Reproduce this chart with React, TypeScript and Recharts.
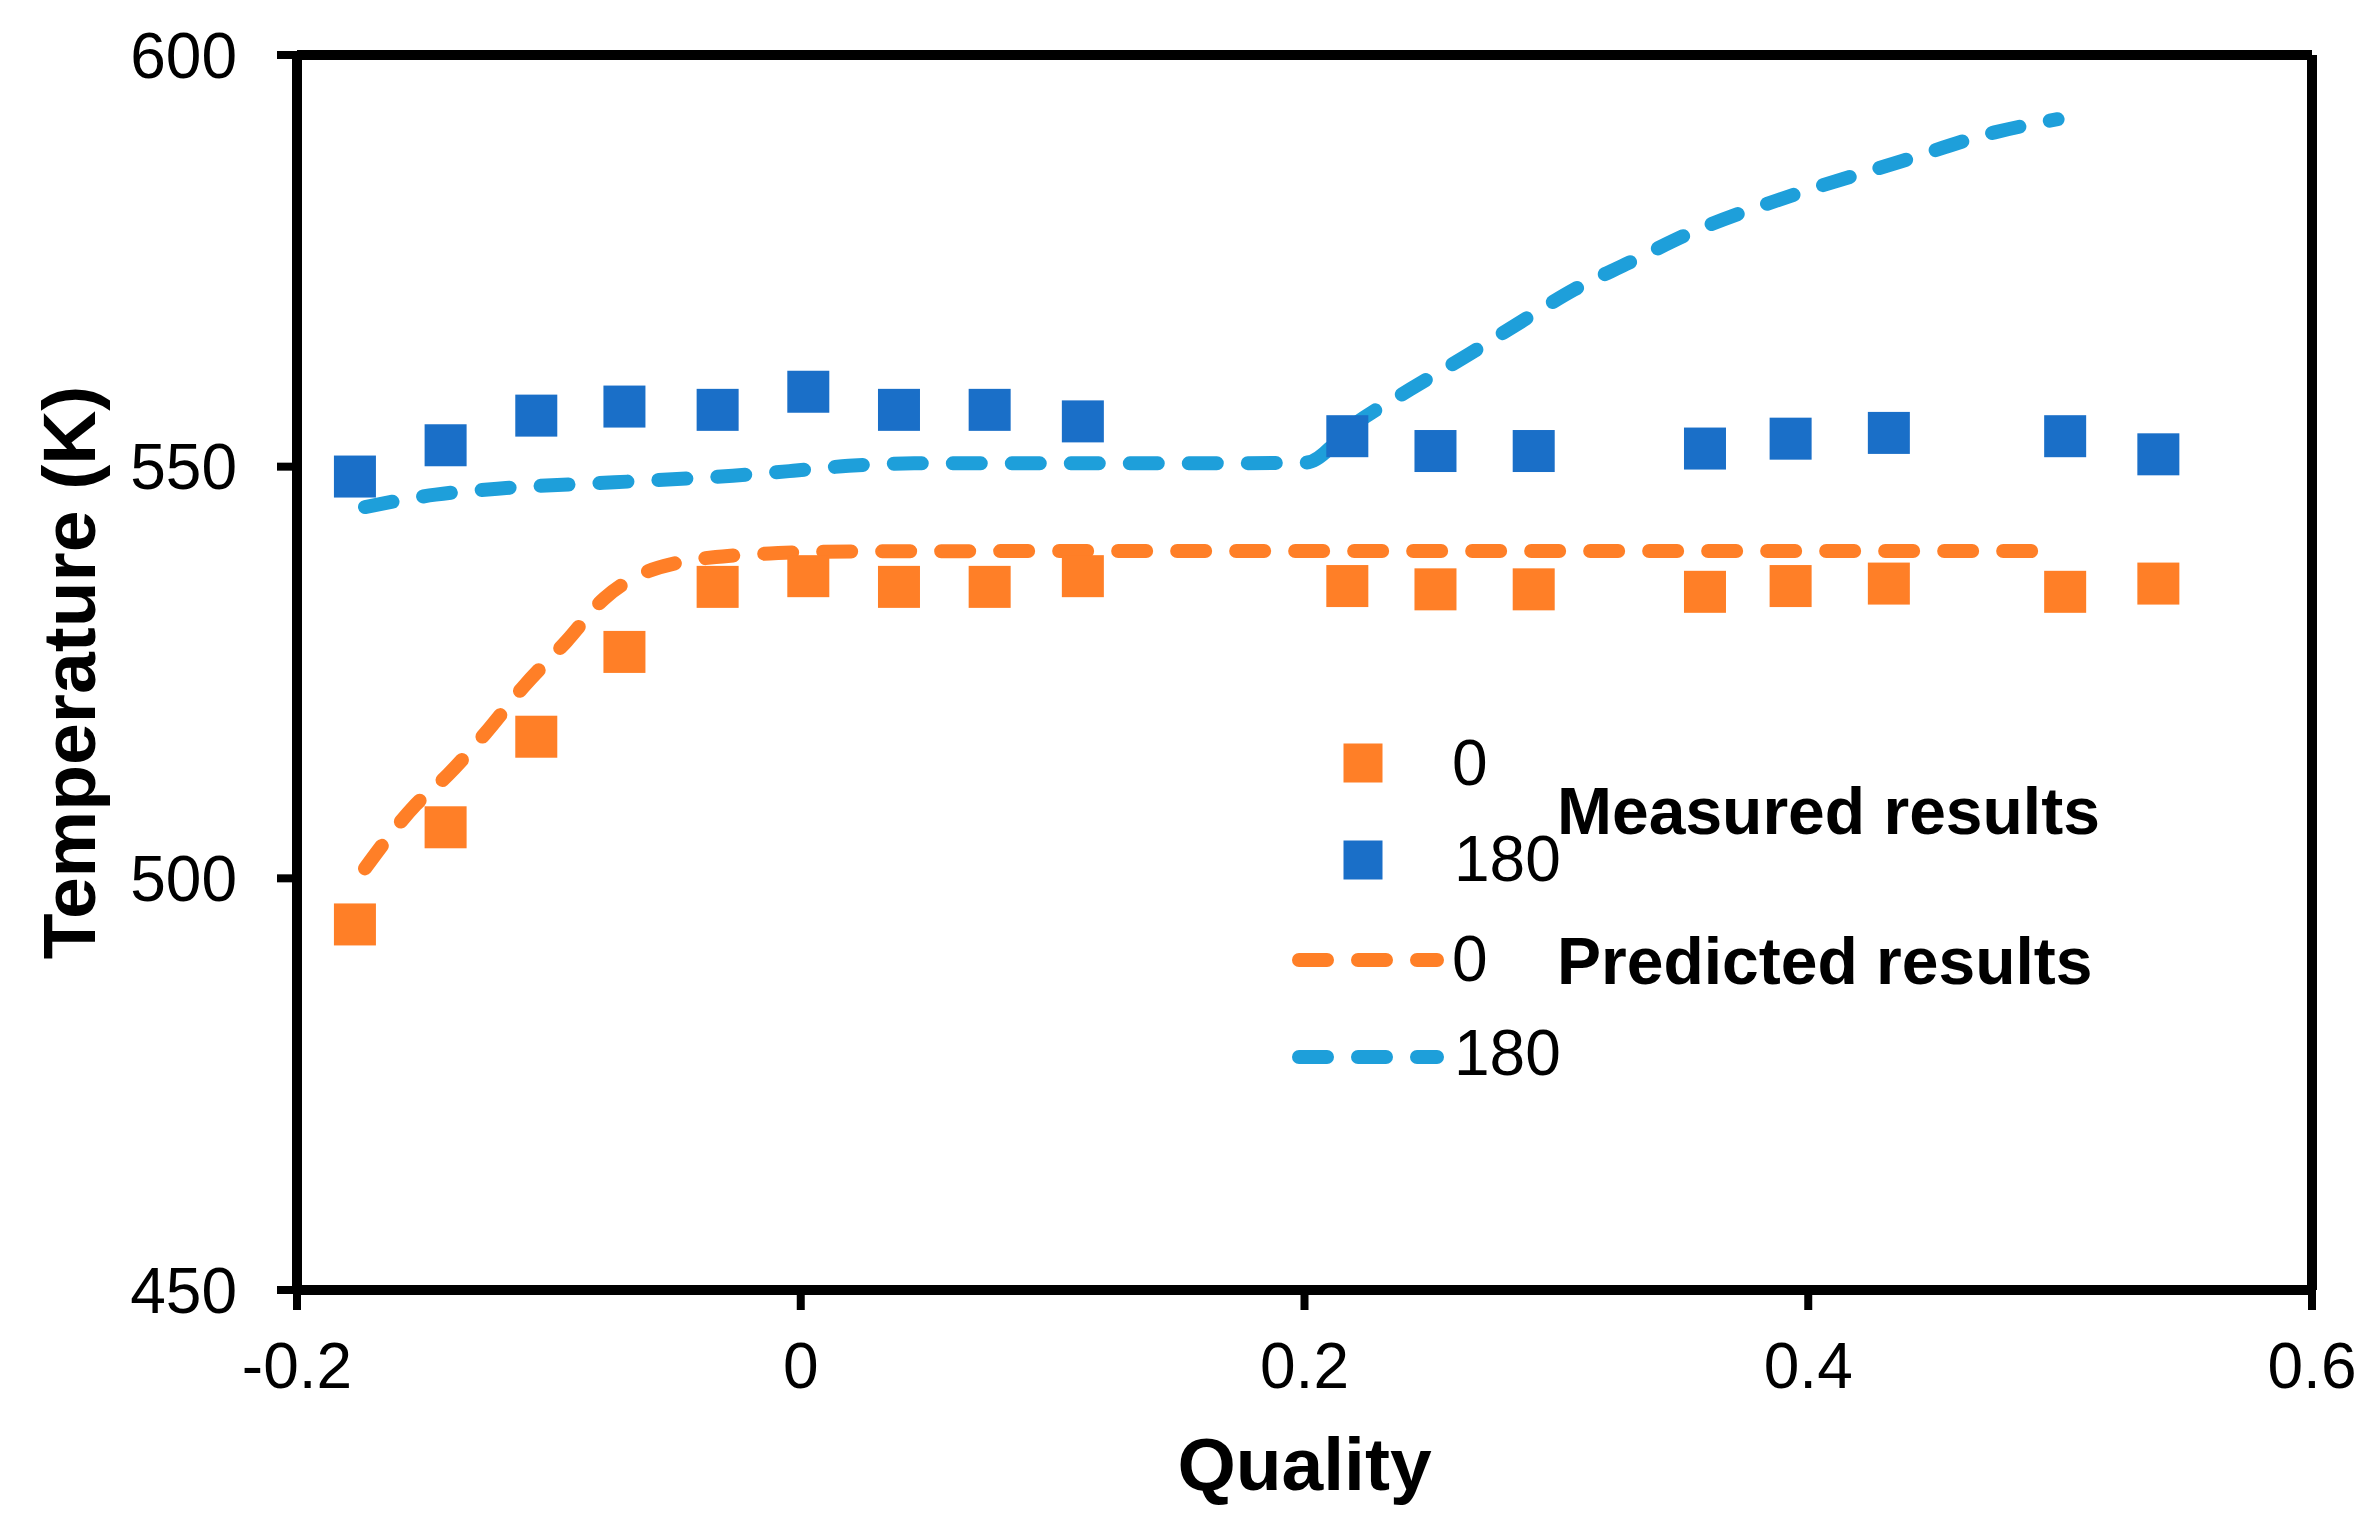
import React from 'react';
import { ComposedChart, Scatter, Line, XAxis, YAxis, ReferenceLine, Legend } from 'recharts';

const FONT = '"Liberation Sans", Arial, Helvetica, sans-serif';
const ORANGE = '#FF7F27';
const BLUE_DARK = '#1A6FC8';
const BLUE_LIGHT = '#1E9FDA';

const W = 2358;
const H = 1520;

// Measured results (squares)
const qualityMeasured = [-0.177, -0.141, -0.105, -0.07, -0.033, 0.003, 0.039, 0.075, 0.112, 0.217, 0.252, 0.291, 0.359, 0.393, 0.432, 0.502, 0.539];
const measured0 = [494.4, 506.2, 517.2, 527.5, 535.4, 536.7, 535.4, 535.4, 536.7, 535.5, 535.1, 535.1, 534.8, 535.5, 535.8, 534.8, 535.8];
const measured180 = [548.8, 552.6, 556.2, 557.3, 556.9, 559.1, 556.9, 556.9, 555.5, 553.7, 551.9, 551.9, 552.2, 553.4, 554.1, 553.7, 551.5];

// Predicted results (dashed lines)
const qualityPred0 = [-0.173, -0.153, -0.14, -0.125, -0.11, -0.093, -0.078, -0.065, -0.048, -0.031, -0.009, 0.02, 0.1, 0.2, 0.3, 0.4, 0.493];
const predicted0 = [501.2, 508.9, 512.6, 517.7, 523.3, 528.8, 534.0, 536.7, 538.4, 539.1, 539.5, 539.7, 539.75, 539.75, 539.75, 539.75, 539.75];
const qualityPred180 = [-0.173, -0.145, -0.117, -0.074, -0.027, -0.003, 0.019, 0.045, 0.1, 0.15, 0.2006, 0.22, 0.242, 0.265, 0.287, 0.307, 0.329, 0.354, 0.393, 0.437, 0.474, 0.499];
const predicted180 = [545.1, 546.6, 547.4, 548.1, 548.9, 549.5, 550.1, 550.4, 550.4, 550.4, 550.5, 555.2, 559.4, 563.6, 567.8, 571.5, 574.8, 578.5, 582.9, 587.1, 590.6, 592.2];

const xTicks = [-0.2, 0, 0.2, 0.4, 0.6];
const yTicks = [450, 500, 550, 600];

const zip = (xs: number[], ys: number[]) => xs.map((x, i) => ({ x, y: ys[i] }));

const dataM0 = zip(qualityMeasured, measured0);
const dataM180 = zip(qualityMeasured, measured180);
const dataP0 = zip(qualityPred0, predicted0);
const dataP180 = zip(qualityPred180, predicted180);

const DASH_W = 14;
const DASH = '28 31';

const makeSquare = (color: string, side: number) => (props: any) => {
  const { cx, cy } = props;
  if (cx == null || cy == null) return <g />;
  return <rect x={cx - side / 2} y={cy - side / 2} width={side} height={side} fill={color} />;
};

const renderLegend = () => {
  const num = { fontFamily: FONT, fontSize: 64, fill: '#000' } as const;
  const bold = { fontFamily: FONT, fontSize: 66, fontWeight: 700, fill: '#000' } as const;
  const dash = { strokeWidth: DASH_W, strokeDasharray: DASH, strokeLinecap: 'round' as const };
  return (
    <svg width={W} height={H} style={{ position: 'absolute', left: 0, top: 0, pointerEvents: 'none' }}>
      <rect x={1335.5} y={735.5} width={39} height={39} fill={ORANGE} />
      <text x={1444} y={777} {...num}>0</text>
      <rect x={1335.5} y={832.5} width={39} height={39} fill={BLUE_DARK} />
      <text x={1446} y={873} {...num}>180</text>
      <text x={1549} y={826} {...bold}>Measured results</text>
      <line x1={1291} y1={952} x2={1429} y2={952} stroke={ORANGE} {...dash} />
      <text x={1444} y={973} {...num}>0</text>
      <text x={1549} y={976} {...bold}>Predicted results</text>
      <line x1={1291} y1={1049} x2={1429} y2={1049} stroke={BLUE_LIGHT} {...dash} />
      <text x={1446} y={1067} {...num}>180</text>
    </svg>
  );
};

const YLabel = (props: any) => {
  const vb = props.viewBox || {};
  const cx = (vb.x ?? 0) + 87;
  const cy = (vb.y ?? 0) + (vb.height ?? 0) / 2;
  return (
    <text
      x={cx}
      y={cy}
      transform={`rotate(-90, ${cx}, ${cy})`}
      textAnchor="middle"
      fontFamily={FONT}
      fontSize={75}
      fontWeight={700}
      fill="#000"
    >
      Temperature (K)
    </text>
  );
};

export default function App() {
  return (
    <div style={{ width: W, height: H }}>
      <ComposedChart width={W} height={H} margin={{ top: 47, right: 54, bottom: 38, left: 0 }}>
        <XAxis
          type="number"
          dataKey="x"
          domain={[-0.2, 0.6]}
          ticks={xTicks}
          allowDataOverflow
          height={200}
          axisLine={{ stroke: '#000', strokeWidth: 10 }}
          tickLine={{ stroke: '#000', strokeWidth: 8 }}
          tickSize={20}
          tickMargin={33}
          tick={{ fill: '#000', fontSize: 64, fontFamily: FONT }}
          label={{ value: 'Quality', position: 'insideBottom', offset: 0, fill: '#000', fontSize: 75, fontWeight: 700, fontFamily: FONT }}
        />
        <YAxis
          type="number"
          dataKey="y"
          domain={[450, 600]}
          ticks={yTicks}
          allowDataOverflow
          width={289}
          axisLine={{ stroke: '#000', strokeWidth: 10 }}
          tickLine={{ stroke: '#000', strokeWidth: 8 }}
          tickSize={20}
          tickMargin={40}
          tick={{ fill: '#000', fontSize: 64, fontFamily: FONT }}
          label={<YLabel />}
        />
        <ReferenceLine y={600} stroke="#000" strokeWidth={10} />
        <ReferenceLine x={0.6} stroke="#000" strokeWidth={10} />
        <Scatter name="0 measured" data={dataM0} fill={ORANGE} shape={makeSquare(ORANGE, 42)} isAnimationActive={false} />
        <Scatter name="180 measured" data={dataM180} fill={BLUE_DARK} shape={makeSquare(BLUE_DARK, 42)} isAnimationActive={false} />
        <Line
          name="0 predicted"
          data={dataP0}
          dataKey="y"
          type="monotone"
          stroke={ORANGE}
          strokeWidth={DASH_W}
          strokeDasharray={DASH}
          strokeLinecap="round"
          dot={false}
          activeDot={false}
          isAnimationActive={false}
        />
        <Line
          name="180 predicted"
          data={dataP180}
          dataKey="y"
          type="monotone"
          stroke={BLUE_LIGHT}
          strokeWidth={DASH_W}
          strokeDasharray={DASH}
          strokeLinecap="round"
          dot={false}
          activeDot={false}
          isAnimationActive={false}
        />
        <Legend
          layout="horizontal"
          verticalAlign="middle"
          align="center"
          content={renderLegend}
          wrapperStyle={{ position: 'absolute', left: 0, top: 0, width: W, height: H, pointerEvents: 'none' }}
        />
      </ComposedChart>
    </div>
  );
}
